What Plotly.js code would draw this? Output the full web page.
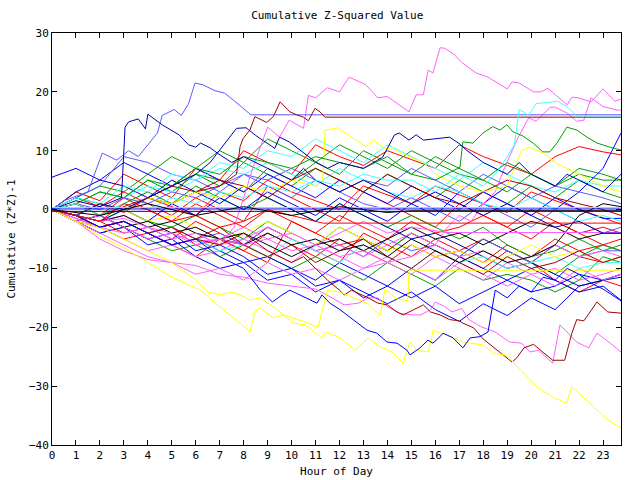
<!DOCTYPE html>
<html><head><meta charset="utf-8">
<script src="https://cdn.plot.ly/plotly-3.0.1.min.js"></script>
<style>html,body{margin:0;padding:0;background:#fff}</style>
</head><body><div id="chart" style="width:640px;height:480px"></div>
<script>
// shared hourly grid for the coarser series
const hours = [0,1,2,3,4,5,6,7,8,9,10,11,12,13,14,15,16,17,18,19,20,21,22,23,23.75];

// hourly series (values at each hour above)
const redA   = [0,3,1.5,6,4,2,7,5,10,8,6,11,9,7.5,10,8.5,7,11,9,7.5,6,9,10.7,9.8,9.3];
const redB   = [0,-1,1,-0.5,2,0.5,-1,3,1.5,5,3,1.5,0,4,2.5,1,4,2.5,1,-0.5,3,1.5,0,-1.5,-2.5];
const redC   = [0,-1.5,-3,-2,-4,-3,-6,-5,-7,-4,-6,-8,-5,-7,-9,-6,-8,-7,-5,-7,-9,-6,-8,-9,-8];
const redD   = [0,1,-1,2,0,-2,1,-1,-3,0,-2,-4,-1,-3,-5,-2,-4,-3,-1,-3,-5,-2,-4,-6,-5];
const redE   = [0,-2,-3,-5,-4,-6,-8,-5,-7,-9,-2,-4,-6,-5,-7,-4,-6,-8,-10,-7,-9,-12,-14,-12,-13];
const redF   = [0,2,0.5,3,1,-1,2,0,-2,4,2,0,-2,3,1,-1,-3,1,-1,-3,0,-2,-4,-3,-4];
const redG   = [0,-1,-2,-4,-3,-5,-2,-4,-6,-3,-5,-7,-9,-4,-6,-8,-5,-7,-9,-6,-8,-5,-7,-6,-7];
const greenB = [0,1,3,2,5,3,6,4,8,6,4,7,5,3,6,4,2,5,3,1,4,2,5,3,2];
const greenC = [0,-1,-2,0,-2,-3,-1,-3,-5,-2,-4,-6,-3,-5,-7,-4,-6,-8,-5,-7,-9,-11,-8,-6,-7];
const greenD = [0,-2,-4,-3,-5,-7,-6,-8,-6,-8,-10,-8,-10,-12,-9,-11,-13,-10,-12,-11,-12,-14,-12,-8,-9];
const greenE = [0,2,4,3,6,9,7,10,8,12,10,8,11,9,7,10,8,6,5,8,6,4,6,5,5];
const greenF = [0,1,-1,1,3,1,4,2,0,2,0,-2,1,-1,-3,-1,-3,-5,-3,-6,-8,-7,-5,-7,-6];
const greenG = [0,2,1,0,2,4,6,5,3,7,5,8,6,10,8,6,9,7,5,3,6,4,7,6,5];
const blueA  = [5.5,7,5,8,6,4,7,5,3,6,4,2,5,3,1,4,2,0,3,1,-1,2,0,-1.5,-1.5];
const blueC  = [0,-1,-2,0,-2,1,-1,2,0,3,1,-1,2,0,-2,1,-1,3,1,4,2,0,3,7,13];
const blueD  = [0,-2,-4,-3,-6,-5,-8,-10,-9,-12,-11,-14,-12,-15,-13,-15,-13,-16,-14,-12,-14,-13,-11,-12,-11];
const blueE  = [0,-1,-3,-2,-4,-6,-5,-7,-9,-8,-10,-12,-9,-11,-13,-10,-12,-8,-10,-12,-10,-12,-14,-13,-15.4];
const blueF  = [0,-2,-1,-3,-5,-4,-7,-6,-8,-11,-10,-13,-12,-14,-16,-14,-17,-19,-16,-18,-15,-17,-13,-12,-11];
const blueG  = [0,3,5,4,2,5,3,1,4,2,0,-2,1,-1,-3,-5,-4,-6,-8,-10,-9,-11,-13,-12,-11.5];
const slateB = [0,2,4,9,8,6,5,3,6,4,2,5,3,1,0,2,0,-2,1,-1,-3,0,-2,-4,-3];
const slateC = [0,-1,-3,-2,-4,-3,-5,-4,-6,-3,-5,-7,-6,-8,-5,-7,-6,-8,-5,-7,-9,-6,-8,-7,-7];
const slateD = [0,1,0,2,1,3,2,4,6,5,7,5,3,5,4,7,5,3,6,4,2,4,3,2,1];
const magD   = [0,-1,-3,-5,-7,-6,-8,-7,-5,-7,-9,-6,-8,-10,-9,-11,-8,-10,-12,-9,-11,-13,-10,-12,-11];
const magE   = [0,-2,-4,-6,-8,-9,-11,-10,-12,-9,-11,-10,-12,-10,-8,-10,-12,-9,-11,-13,-11,-10,-12,-11,-10];
const magF   = [0,-1,-2,-1,-3,-5,-4,-6,-5,-3,-5,-7,-6,-8,-6,-4,-6,-8,-7,-9,-8,-6,-8,-7,-8];
const cyanB  = [0,2,1,4,3,6,5,8,7,10,9,12,10,8,11,9,7,5,8,6,4,3,5,4,4];
const cyanC  = [0,-1,-3,-2,-4,-3,-5,-7,-6,-8,-5,-7,-9,-6,-8,-10,-7,-9,-8,-10,-9,-8,-10,-9,-9];
const cyanD  = [0,1,3,2,4,3,5,7,6,8,6,4,7,5,3,2,4,3,1,0,2,0,-2,-1,-2];
const yellowD= [0,1,-1,0,-2,-1,-3,-5,-4,-2,-4,-6,-3,-5,-7,-6,-8,-7,-9,-8,-6,-8,-7,-9,-8];
const dredC  = [0,-1,1,0,2,4,3,5,4,2,5,7,5,3,6,4,2,1,3,5,4,2,1,0,-1];
const dredD  = [0,-1,-3,-2,-4,-6,-5,-3,-6,-8,-6,-9,-7,-5,-8,-10,-7,-9,-11,-8,-10,-9,-7,-9,-8];
const blackA = [0,-1,-2,-1,-3,-2,-4,-5,-6,-4,-6,-5,-7,-6,-8,-5,-7,-9,-7,-9,-8,-6,-1,1,0.5];
const blackC = [0,-2,-1,-3,-2,-4,-3,-5,-4,-6,-8,-6,-5,-7,-5,-3,-5,-4,-6,-4,-2,-3,-5,-4,-4];

// traced series as [hour, value] pairs
const magentaTop = [[0,0],[1,-1.5],[2,-3],[3,-4],[4,-3],[5,-5],[6,-4],[7,-6],[7.6,-3],[8,2],[8.4,7.3],[9,14],[9.5,12.3],[9.9,15.2],[10.5,13.8],[10.7,19.4],[11,19],[11.5,20.7],[12,20],[12.4,22.5],[13.1,21.2],[13.6,19],[14,19.2],[14.9,16.6],[15.2,19.5],[15.5,19.5],[15.7,23.7],[15.9,23.2],[16.2,27.5],[16.4,27.4],[16.8,26.3],[17.1,25],[17.7,23.2],[18.2,22.5],[18.6,21.5],[19,20.5],[19.2,21.7],[19.5,21.5],[20.1,20],[20.4,20],[20.7,20.6],[21.5,17.8],[21.7,19.1],[21.95,19],[22.5,18.3],[23,20.5],[23.5,18.4],[23.75,18.8]];
const magentaRise = [[0,0],[1,-1],[2,-2],[3,-1.5],[4,-3],[5,-4],[6,-5.5],[7,-5],[8,-6],[9,-5],[10,-7],[11,-6],[12,-8],[13,-7],[14,-9],[15,-8],[16,-6],[16.5,-3],[17,-1],[17.5,-2],[18,1],[18.5,3],[18.9,7.2],[19.4,11.8],[19.9,15.6],[20.2,15],[20.8,17.4],[21,17.4],[21.5,16.4],[21.9,15],[22.2,15.2],[22.5,19],[22.75,18.3],[23,17.5],[23.6,16.9],[23.75,16.9]];
const magentaLow = [[0,0],[1,-2],[2,-5],[3,-7],[4,-8.5],[5,-9],[6,-9.5],[7,-11],[8,-11.5],[9,-12.5],[10,-13],[11,-13.5],[11.6,-14.8],[12.2,-16.2],[12.8,-15.9],[13.2,-15],[13.6,-15],[14,-16.5],[14.5,-17.6],[15,-17.9],[15.4,-17.9],[15.8,-17],[16,-15.7],[16.4,-16.5],[16.7,-17.4],[17.1,-16.8],[17.4,-18.7],[17.9,-19.9],[18.5,-20.8],[19.1,-22.5],[19.6,-22.7],[19.95,-24.2],[20.3,-23.9],[20.9,-26.1],[21.2,-19.6],[21.9,-22.5],[22.4,-23.5],[22.75,-21],[23.3,-22.7],[23.75,-24.2]];
const magentaFlat = [[0,0],[1,-2],[2,-1],[3,-3],[4,-5],[5,-4],[6,-6],[7,-5],[8,-3],[9,-5],[10,-4],[11,-6],[12,-4],[13,-2],[14,-4],[15,-3],[16.5,-3.9],[23.75,-3.9]];
const slateTop = [[0,0],[0.5,1.5],[1.5,3],[2.1,9.6],[2.7,8.4],[3.2,10],[3.6,9],[4.4,13],[4.6,16],[5.1,17],[5.4,16],[5.7,18],[5.97,21.5],[6.3,21.2],[6.8,20.2],[7.2,19.8],[7.6,18.5],[8.3,16.1],[23.75,16.1]];
const darkRedTop = [[0,0],[1,1],[2,-1],[3,0.5],[4,2],[5,1],[6,3],[7,4],[7.7,6],[7.85,10.7],[7.98,12.1],[8.26,13.5],[8.47,15.8],[8.96,14.8],[9.24,15.8],[9.52,18.3],[9.93,16.6],[10.21,16.1],[10.49,15.7],[10.7,15.1],[10.98,17.2],[11.19,16.6],[11.39,15.7],[23.75,15.7]];
const darkRedLow = [[0,0],[1,-1],[2,-3],[3,-2],[4,-4],[5,-3],[6,-5],[7,-6],[8,-4],[9,-7],[10,-9],[10.5,-8],[11,-10],[11.5,-12],[12,-13.7],[12.2,-14.5],[12.5,-13.7],[13.2,-15],[13.6,-15.9],[14,-16.2],[14.4,-17.4],[14.66,-17.9],[15.1,-17],[15.5,-16.2],[15.8,-17.4],[16.2,-17.9],[16.6,-18.7],[17,-18.9],[17.15,-19.3],[17.6,-20.1],[18,-22],[18.3,-23],[18.7,-24.4],[19.2,-25.9],[19.4,-25.2],[19.7,-23.5],[20.1,-22.9],[20.5,-24.2],[20.9,-25.6],[21.4,-25.6],[21.7,-21],[21.9,-18.7],[22.2,-18.9],[22.75,-15.7],[23.2,-17.4],[23.75,-17.6]];
const yellowLow = [[0,0],[1,-2],[2,-4.5],[3,-6.5],[4,-9],[5,-11.5],[6.2,-13.7],[7,-16.5],[7.85,-19.3],[8.26,-20.8],[8.47,-17.4],[8.68,-16.7],[9.24,-18.4],[9.65,-17.9],[10.07,-19.3],[10.56,-19.6],[11.26,-21.8],[11.46,-20.8],[12.02,-21.8],[12.65,-23.9],[13.2,-21.8],[13.69,-23.3],[14.18,-24.2],[14.66,-26.1],[14.94,-22.5],[15.22,-23.9],[15.71,-24.2],[15.91,-20.5],[16.19,-21],[16.4,-21.2],[17.17,-22.5],[18,-23],[18.42,-24.4],[18.9,-24.7],[19.25,-25.9],[20.23,-30.1],[20.92,-31.9],[21.48,-32.9],[21.69,-30.1],[22.45,-32.9],[23.22,-35.8],[23.75,-37.1]];
const yellowFlat = [[0,0],[1,-2],[2,-3],[3,-5],[4,-7],[5,-9],[6,-12],[6.5,-14],[7,-14.5],[7.5,-14],[7.85,-14.5],[8.26,-15.4],[8.68,-15],[9.24,-16.5],[9.65,-17.9],[10.5,-19],[11.1,-20],[11.5,-13.7],[12,-14],[12.6,-15],[13.2,-16],[13.7,-18],[13.9,-13.5],[14.4,-15.2],[14.85,-15.5],[14.9,-10.3],[23.75,-10.3]];
const yellowHigh = [[0,0],[1,-1],[2,1],[3,0],[4,2],[5,1],[6,3],[7,2],[8,4],[9,3],[10,5],[11,4],[11.3,5],[11.4,13.5],[11.9,13.9],[12.4,12.5],[12.7,11.8],[13.1,10.7],[13.4,11.8],[13.9,10.4],[14.3,10.2],[15,8.8],[15.5,8],[16,6],[16.5,5],[17,4],[18,3],[19,4],[19.6,10],[19.9,10.6],[20.5,9.6],[21,8],[22,6],[23,4],[23.75,3]];
const greenTop = [[0,0],[1,1],[2,3],[3,2],[4,5],[5,4],[6,7],[7,6],[8,9],[9,8],[10,7],[11,9],[12,8],[13,7],[14,9],[15,6],[16,5],[17.03,7.2],[17.15,11.5],[17.57,11.3],[17.99,13],[18.4,14.1],[18.7,13.5],[18.99,14.4],[19.24,13.2],[19.66,12.5],[20.08,11.3],[20.49,9.8],[20.78,9.8],[21.08,11.3],[21.49,14],[21.91,13.5],[22.33,12.3],[22.75,11.3],[23.29,10.6],[23.75,10.1]];
const blueLow = [[0,0],[1,-1],[2,-3],[3,-2],[4,-4],[5,-6],[6,-5],[7,-8],[8,-10],[8.7,-13.7],[9.2,-15.7],[9.6,-14.5],[9.93,-13.7],[10.35,-14.5],[11.06,-15.9],[11.27,-14.5],[11.6,-15.9],[12.02,-17],[12.56,-18.7],[13.15,-20.5],[13.56,-21],[13.98,-22.5],[14.4,-22.7],[14.82,-23.9],[14.94,-24.7],[15.36,-23.5],[15.69,-22.2],[15.9,-22.7],[16.19,-21.6],[16.32,-21],[16.74,-21.8],[17.15,-23.5],[17.45,-21.8],[17.86,-21.6],[18.2,-20.8],[18.5,-13.7],[19,-15],[19.5,-13],[20,-14],[20.5,-11.5],[21,-12],[21.5,-10],[22,-11],[22.5,-12.5],[23,-13.5],[23.75,-15.5]];
const navyPeak = [[0,0],[1,1.5],[2,0.5],[2.9,2],[3.05,14],[3.2,14.9],[3.6,15.4],[3.9,13.7],[4.0,16.2],[4.6,14.4],[5.3,12.7],[5.7,11],[6.0,10.6],[6.2,11.3],[6.6,10.5],[6.9,9.6],[7.5,8],[8,9],[9,7],[10,5],[10.5,7],[11,5],[12,3],[13,5],[14,3],[15,1],[16,3],[17,1],[18,-1],[19,1],[20,-1],[21,-3],[22,-2],[23,-4],[23.75,-4]];
const navyMid = [[0,0],[1,-1],[2,1],[3,0],[4,2],[5,4],[6,6],[6.6,8],[7.3,11.8],[7.7,13.8],[8.1,13.9],[8.5,12.6],[9.3,10.4],[9.5,12.3],[9.9,11.5],[10.5,9.6],[11,8.1],[11.5,7],[12,8],[13,7],[13.8,8.9],[14.3,12.7],[14.5,13],[14.9,11.8],[15.2,12.7],[15.5,11.8],[16.2,12.2],[16.6,12.3],[17,11.2],[17.3,10.1],[18,8],[19,6],[19.5,8],[20,6],[21,4],[21.5,6],[22,5],[23,3],[23.75,6]];
const cyanTop = [[0,0],[1,1],[2,-1],[3,1],[4,0],[5,2],[6,1],[7,3],[8,2],[9,4],[10,3],[11,5],[12,4],[13,6],[14,5],[15,5],[16,3],[17,6],[18,4],[18.5,6],[19,9],[19.3,11],[19.5,17],[19.9,16],[20.2,18],[20.5,18.1],[21.1,18.4],[21.5,17.5],[21.9,15.9],[23.75,15.9]];
const redFlat = [[0,0],[1,-1],[2,-2],[3,1],[4,0],[5,-2],[6,-1],[7,-3],[8,-2],[9,0],[10,-1],[11.3,-2.3],[23.75,-2.3]];
const blueFlat = [[0,0.1],[23.75,0.1]];
const navyFlat = [[0,-0.3],[23.75,-0.3]];
const cyanFlat = [[0,0.35],[23.75,0.35]];
const blackFlat = [[0,0],[2,-1],[4,1],[6,-1],[8,0.5],[10,-1],[12,0.5],[14,-0.5],[15,-0.2],[23.75,-0.2]];

const RED='#ff0000', DRED='#a00000', GREEN='#00a000', BLUE='#0000ff', NAVY='#0000b0',
      SLATE='#5a5aff', MAG='#ff60ff', CYAN='#40ffff', YEL='#ffff00', BLK='#000000';

const hourly = [[redA,RED],[redB,RED],[redC,RED],[redD,RED],[redE,RED],[redF,RED],[redG,RED],
  [greenB,GREEN],[greenC,GREEN],[greenD,GREEN],[greenE,GREEN],[greenF,GREEN],[greenG,GREEN],
  [blueA,BLUE],[blueC,BLUE],[blueD,BLUE],[blueE,BLUE],[blueF,BLUE],[blueG,NAVY],[slateB,SLATE],[slateC,SLATE],[slateD,SLATE],
  [magD,MAG],[magE,MAG],[magF,MAG],[cyanB,CYAN],[cyanC,CYAN],[cyanD,CYAN],
  [yellowD,YEL],[dredC,DRED],[dredD,DRED],[blackA,BLK],[blackC,BLK]];
const paired = [[magentaTop,MAG],[magentaRise,MAG],[magentaLow,MAG],[magentaFlat,MAG],[slateTop,SLATE],[darkRedTop,DRED],
  [darkRedLow,DRED],[yellowLow,YEL],[yellowFlat,YEL],[yellowHigh,YEL],[greenTop,GREEN],[blueLow,BLUE],[navyPeak,NAVY],
  [navyMid,NAVY],[cyanTop,CYAN],[redFlat,RED],[blueFlat,BLUE],[navyFlat,NAVY],[cyanFlat,CYAN],[blackFlat,BLK]];

const traces = [];
hourly.forEach(([vals,c]) => traces.push({x:hours, y:vals, type:'scatter', mode:'lines', line:{color:c,width:1}, hoverinfo:'skip'}));
paired.forEach(([pts,c]) => traces.push({x:pts.map(p=>p[0]), y:pts.map(p=>p[1]), type:'scatter', mode:'lines', line:{color:c,width:1}, hoverinfo:'skip'}));

const font = {family:'DejaVu Sans Mono, monospace', size:11, color:'#000'};
const layout = {
  width:640, height:480, showlegend:false,
  paper_bgcolor:'#fff', plot_bgcolor:'#fff',
  margin:{l:52, r:19, t:33, b:35},
  font:font,
  title:{text:'Cumulative Z-Squared Value', font:font, x:0.527, xanchor:'center', y:0.968, yanchor:'middle', yref:'container'},
  xaxis:{range:[0,23.75], tickmode:'linear', tick0:0, dtick:1, ticks:'inside', ticklen:5, tickcolor:'#000',
         showline:true, linecolor:'#000', linewidth:1, mirror:'ticks', showgrid:false, zeroline:false,
         tickfont:font, title:{text:'Hour of Day', font:font, standoff:6}},
  yaxis:{range:[-40,30], tickmode:'linear', tick0:-40, dtick:10, ticks:'inside', ticklen:5, tickcolor:'#000',
         showline:true, linecolor:'#000', linewidth:1, mirror:'ticks', showgrid:false, zeroline:false,
         tickfont:font, title:{text:'Cumulative (Z*Z)-1', font:font, standoff:11}}
};
Plotly.newPlot('chart', traces, layout, {staticPlot:true, displayModeBar:false});
</script></body></html>
